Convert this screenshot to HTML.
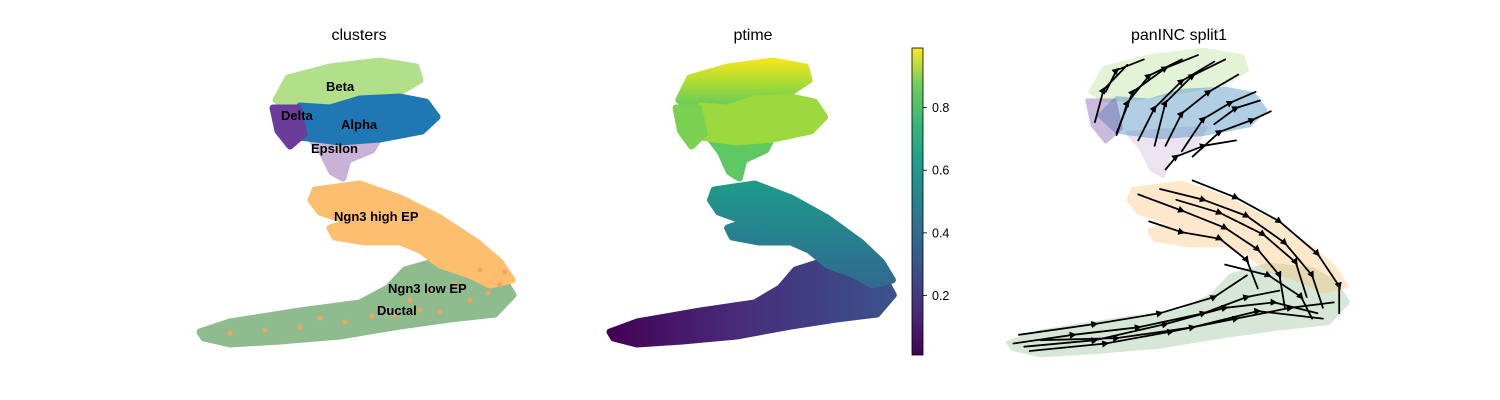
<!DOCTYPE html>
<html><head><meta charset="utf-8">
<style>
body{margin:0;background:#fff;}
svg{display:block;font-family:"Liberation Sans",sans-serif;}
</style></head>
<body>
<svg id="fig" width="1500" height="400" viewBox="0 0 1500 400">
<defs>
<linearGradient id="viridis" x1="0" y1="1" x2="0" y2="0">
<stop offset="0" stop-color="#440154"/><stop offset="0.13" stop-color="#482878"/>
<stop offset="0.25" stop-color="#3e4989"/><stop offset="0.38" stop-color="#31688e"/>
<stop offset="0.5" stop-color="#26828e"/><stop offset="0.63" stop-color="#1f9e89"/>
<stop offset="0.75" stop-color="#35b779"/><stop offset="0.88" stop-color="#6ece58"/>
<stop offset="1" stop-color="#fde725"/></linearGradient>
<linearGradient id="ductGrad" x1="0" y1="0" x2="1" y2="0">
<stop offset="0" stop-color="#440154"/><stop offset="0.45" stop-color="#472c7a"/>
<stop offset="1" stop-color="#3b528b"/></linearGradient>
<linearGradient id="highGrad" x1="0" y1="0" x2="0" y2="1">
<stop offset="0" stop-color="#1f9a8a"/><stop offset="0.5" stop-color="#26828e"/>
<stop offset="1" stop-color="#306a8e"/></linearGradient>
<linearGradient id="topGrad" x1="0" y1="0" x2="0" y2="1">
<stop offset="0" stop-color="#f0e51f"/><stop offset="0.5" stop-color="#a5db36"/>
<stop offset="1" stop-color="#5ec962"/></linearGradient>
<marker id="arr" viewBox="0 0 10 10" refX="5" refY="5" markerWidth="4" markerHeight="4" orient="auto"><path d="M0,0 L10,5 L0,10 z" fill="#000"/></marker>
</defs>
<g id="p1"></g>
<g id="p2"></g>
<g id="p3"></g>
<text x="359" y="40" text-anchor="middle" font-size="16">clusters</text>
<text x="753" y="40" text-anchor="middle" font-size="16">ptime</text>
<text x="1179" y="40" text-anchor="middle" font-size="16">panINC split1</text>
<g id="cbar"></g>
</svg>
<script>
// cluster outlines in embedding coordinates
const clusterNames = ["Ductal","Ngn3 high EP","Epsilon","Beta","Alpha","Delta"];
const clusterColors = ["#8fbc8f","#fdbf6f","#cab2d6","#b2df8a","#1f78b4","#6a3d9a"];
const ptimeFills = ["url(#ductGrad)","url(#highGrad)","#5ec962","url(#topGrad)","#9bd93c","#7ad151"];
const ductalOutline = [[200,332],[230,322],[300,311],[360,303],[388,288],[405,270],[440,260],[480,264],[502,277],[513,295],[495,314],[450,319],[400,326],[340,336],[280,341],[230,344],[204,338]];
const highOutline = [[315,190],[360,184],[400,198],[440,218],[478,243],[500,262],[512,280],[490,285],[470,275],[440,265],[420,250],[400,242],[365,242],[335,237],[330,228],[350,222],[320,212],[311,200]];
const epsilonOutline = [[310,138],[382,133],[372,150],[348,160],[343,178],[332,172],[322,152]];
const betaOutline = [[288,78],[330,67],[380,61],[416,67],[420,80],[400,92],[360,100],[320,106],[288,108],[276,100]];
const alphaOutline = [[330,108],[360,99],[400,97],[426,102],[437,117],[422,131],[380,139],[340,142],[300,137],[284,122],[300,106]];
const deltaOutline = [[273,108],[298,108],[304,134],[290,146],[278,131]];
const outlines = [ductalOutline,highOutline,epsilonOutline,betaOutline,alphaOutline,deltaOutline];
const lowEPPoints = [[230,333],[265,330],[300,327],[320,318],[345,322],[372,316],[410,300],[430,292],[455,285],[470,300],[488,293],[500,285],[505,272],[480,270],[420,310],[440,312],[395,315]];
const labelTexts = ["Beta","Delta","Alpha","Epsilon","Ngn3 high EP","Ngn3 low EP","Ductal"];
const labelPos = [[326,86],[281,115],[341,124],[311,148],[334,216],[388,288],[377,310]];
const streamlines = [
 [[300,140],[310,110],[330,85],[360,70]],
 [[320,145],[335,115],[360,90],[390,72]],
 [[345,150],[360,120],[385,100],[412,84]],
 [[360,155],[380,125],[405,110],[428,100]],
 [[280,128],[288,98],[310,75]],
 [[370,160],[395,137],[425,126],[442,118]],
 [[300,138],[315,100],[345,78],[375,66]],
 [[290,100],[300,80],[325,70]],
 [[335,150],[345,110],[370,85],[400,70]],
 [[390,130],[410,115],[432,108]],
 [[320,195],[360,210],[400,226],[430,246],[450,270],[455,300]],
 [[340,190],[380,200],[420,215],[455,240],[480,270],[490,300]],
 [[330,220],[360,230],[395,236],[420,256],[430,282]],
 [[370,182],[410,198],[450,220],[485,250],[505,280],[505,305]],
 [[345,172],[355,160],[380,150],[410,145]],
 [[355,200],[395,212],[435,232],[465,258],[475,290]],
 [[205,333],[260,325],[320,318],[380,305],[420,290],[450,284]],
 [[220,340],[290,333],[350,322],[410,310],[460,300],[500,295]],
 [[230,330],[300,328],[370,318],[430,303],[490,310]],
 [[210,325],[280,315],[340,305],[390,290],[420,270]],
 [[215,336],[280,330],[345,315],[400,300],[445,295],[485,305]],
 [[400,260],[440,270],[470,290],[480,310]]
];
const cbTicks = [0.2,0.4,0.6,0.8];

const NS="http://www.w3.org/2000/svg";
function panelX(i,x){ if(i===0) return x; if(i===1) return 610+0.905*(x-200); return 1008+1.086*(x-200); }
function panelY(i,y){ if(i<2) return y; return 202+1.08*(y-202); }
function pts(i,arr){ return arr.map(p=>panelX(i,p[0]).toFixed(1)+","+panelY(i,p[1]).toFixed(1)).join(" "); }
function mk(tag,attrs,parent){ const e=document.createElementNS(NS,tag); for(const k in attrs) e.setAttribute(k,attrs[k]); parent.appendChild(e); return e; }

[0,1,2].forEach(i=>{
 const g=document.getElementById("p"+(i+1));
 outlines.forEach((o,k)=>{
  const fill = i===1 ? ptimeFills[k] : clusterColors[k];
  const poly=mk("polygon",{points:pts(i,o),fill:fill,opacity:i===2?0.35:1,stroke:fill,"stroke-width":i===2?4:7,"stroke-linejoin":"round"},g);
  
  
 });
 if(i===0){
  lowEPPoints.forEach(p=>{
   const c=mk("circle",{cx:panelX(i,p[0]),cy:panelY(i,p[1]),r:2.5,fill:"#f4a460"},g);
   
   
  });
  labelTexts.forEach((t,k)=>{
   const tx=mk("text",{x:labelPos[k][0],y:labelPos[k][1]+5,"font-size":13,"font-weight":"bold",fill:"#000"},g);
   tx.textContent=t;
   
   
  });
 }
 if(i===2){
  streamlines.forEach(s=>{
   const pl=mk("polyline",{points:pts(i,s),fill:"none",stroke:"#000","stroke-width":1.8,"stroke-linecap":"round","stroke-linejoin":"round","marker-mid":"url(#arr)"},g);
   
   
  });
 }
});

// colorbar
const cb=document.getElementById("cbar");
const cbX=912, cbW=11, cbTop=48, cbBot=355, vMin=0.01, vMax=0.99;
function cbY(v){ return cbBot-(v-vMin)/(vMax-vMin)*(cbBot-cbTop); }
const r=mk("rect",{x:cbX,y:cbTop,width:cbW,height:cbBot-cbTop,fill:"url(#viridis)",stroke:"#000","stroke-width":0.8},cb);


cbTicks.forEach(v=>{
 const y=cbY(v);
 const l=mk("line",{x1:cbX+cbW,x2:cbX+cbW+4,y1:y,y2:y,stroke:"#000","stroke-width":0.8},cb);
 
 
 const t=mk("text",{x:cbX+cbW+9,y:y+4.5,"font-size":12.5,fill:"#000"},cb);
 t.textContent=v.toFixed(1);
 
 
});
</script>
</body></html>
